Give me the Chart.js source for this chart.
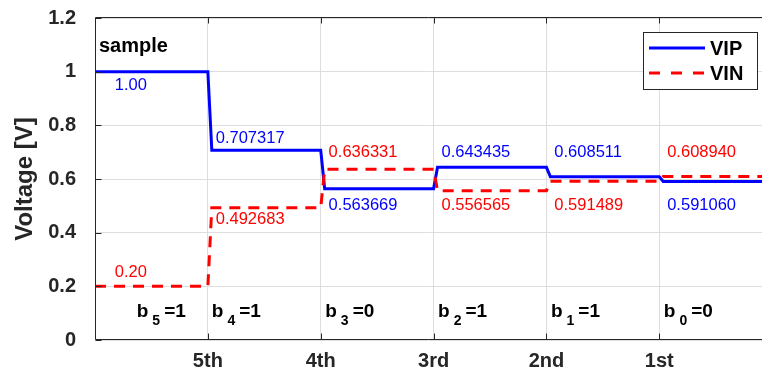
<!DOCTYPE html>
<html>
<head>
<meta charset="utf-8">
<script src="https://cdn.jsdelivr.net/npm/chart.js@4/dist/chart.umd.min.js"></script>
<style>
  html, body { margin: 0; padding: 0; background: #fff; overflow: hidden; }
  #wrap { position: relative; width: 762px; height: 375px; }
</style>
</head>
<body>
<div id="wrap"><canvas id="c"></canvas></div>
<script>
// Conversion stages shown on the x axis
const stageLabels = ['5th', '4th', '3rd', '2nd', '1st'];
// Held voltage of each input after every step
const vipLevels = [1.00, 0.707317, 0.563669, 0.643435, 0.608511, 0.591060];
const vinLevels = [0.20, 0.492683, 0.636331, 0.556565, 0.591489, 0.608940];
// Decided bits b5 ... b0
const bitValues = [1, 1, 0, 1, 1, 0];
const seriesNames = ['VIP', 'VIN'];

const FONT = '"Liberation Sans", Arial, Helvetica, sans-serif';
const AXIS_COLOR = '#262626';
const X_MAX = 5.91;
const RAMP = 0.035;

// Turn a list of step levels into a polyline with short switching ramps
function stepPoints(levels) {
  const pts = [];
  levels.forEach((v, i) => {
    pts.push({ x: i === 0 ? 0 : i + RAMP, y: v });
    pts.push({ x: i + 1, y: v });
  });
  return pts;
}

const decor = {
  id: 'decor',
  afterDatasetsDraw(chart, args, o) {
    const { ctx, chartArea: a, scales: { x, y } } = chart;
    ctx.save();

    // value labels beside each step
    ctx.textAlign = 'left';
    ctx.textBaseline = 'middle';
    ctx.font = '16.5px ' + FONT;
    const sets = [
      { levels: vipLevels, ys: o.vipLabelY, color: chart.data.datasets[0].borderColor },
      { levels: vinLevels, ys: o.vinLabelY, color: chart.data.datasets[1].borderColor }
    ];
    sets.forEach(s => {
      ctx.fillStyle = s.color;
      s.levels.forEach((v, i) => {
        ctx.fillText(v.toFixed(o.decimals[i]), x.getPixelForValue(o.labelX[i]), y.getPixelForValue(s.ys[i]));
      });
    });

    // bit decisions b5 ... b0
    ctx.fillStyle = '#000';
    ctx.textBaseline = 'alphabetic';
    bitValues.forEach((b, i) => {
      let px = x.getPixelForValue(o.bitX[i]);
      const py = y.getPixelForValue(o.bitY);
      ctx.font = 'bold 19px ' + FONT;
      ctx.fillText('b', px, py);
      px += ctx.measureText('b').width + 4;
      ctx.font = 'bold 14px ' + FONT;
      const sub = String(bitValues.length - 1 - i);
      ctx.fillText(sub, px, py + 8);
      px += ctx.measureText(sub).width + 4;
      ctx.font = 'bold 19px ' + FONT;
      ctx.fillText('=' + b, px, py);
    });

    // phase caption
    ctx.font = 'bold 20px ' + FONT;
    ctx.fillText('sample', x.getPixelForValue(0.035), y.getPixelForValue(1.074));

    // axes frame with inward ticks
    ctx.strokeStyle = AXIS_COLOR;
    ctx.lineWidth = 1;
    const L = Math.round(a.left) + 0.5, B = Math.round(a.bottom) - 0.5, T = Math.round(a.top) - 0.5;
    ctx.beginPath();
    ctx.moveTo(L, T); ctx.lineTo(L, B);
    ctx.moveTo(L, B); ctx.lineTo(a.right, B);
    ctx.moveTo(L, T); ctx.lineTo(a.right, T);
    x.ticks.forEach(t => {
      const px = Math.round(x.getPixelForValue(t.value)) + 0.5;
      ctx.moveTo(px, B); ctx.lineTo(px, B - 6);
      ctx.moveTo(px, T); ctx.lineTo(px, T + 6);
    });
    y.ticks.forEach(t => {
      const py = Math.round(y.getPixelForValue(t.value)) + 0.5;
      ctx.moveTo(L, py); ctx.lineTo(L + 6, py);
    });
    ctx.stroke();
    ctx.restore();
  },
  afterDraw(chart, args, o) {
    // boxed legend in the upper right corner
    const { ctx } = chart;
    const b = o.legendBox;
    ctx.save();
    ctx.fillStyle = '#fff';
    ctx.fillRect(b.x, b.y, b.w, b.h);
    ctx.strokeStyle = AXIS_COLOR;
    ctx.lineWidth = 1;
    ctx.strokeRect(b.x + 0.5, b.y + 0.5, b.w, b.h);
    chart.data.datasets.forEach((ds, i) => {
      const ry = b.y + 16 + i * 25;
      ctx.strokeStyle = ds.borderColor;
      ctx.lineWidth = ds.borderWidth;
      ctx.setLineDash(ds.borderDash ? [11, 11] : []);
      ctx.beginPath();
      ctx.moveTo(b.x + 6, ry);
      ctx.lineTo(b.x + 62, ry);
      ctx.stroke();
      ctx.setLineDash([]);
      ctx.fillStyle = '#000';
      ctx.font = 'bold 20px ' + FONT;
      ctx.textAlign = 'left';
      ctx.textBaseline = 'middle';
      ctx.fillText(ds.label, b.x + 67, ry + 1);
    });
    ctx.restore();
  }
};

new Chart(document.getElementById('c'), {
  type: 'line',
  data: {
    datasets: [
      {
        label: seriesNames[0],
        data: stepPoints(vipLevels),
        borderColor: '#0000ff',
        borderWidth: 3,
        pointRadius: 0,
        tension: 0,
        fill: false,
        borderJoinStyle: 'miter',
        order: 1
      },
      {
        label: seriesNames[1],
        data: stepPoints(vinLevels),
        borderColor: '#ff0000',
        borderWidth: 3,
        borderDash: [11, 8],
        pointRadius: 0,
        tension: 0,
        fill: false,
        borderJoinStyle: 'miter',
        order: 0
      }
    ]
  },
  options: {
    responsive: true,
    maintainAspectRatio: false,
    animation: false,
    events: [],
    layout: { padding: { top: 18, right: 0, bottom: 0, left: 0 } },
    plugins: {
      legend: { display: false },
      tooltip: { enabled: false },
      decor: {
        labelX: [0.175, 1.07, 2.07, 3.07, 4.07, 5.07],
        vipLabelY: [0.95, 0.75, 0.5, 0.7, 0.7, 0.5],
        vinLabelY: [0.25, 0.45, 0.7, 0.5, 0.5, 0.7],
        decimals: [2, 6, 6, 6, 6, 6],
        bitX: [0.37, 1.035, 2.04, 3.04, 4.04, 5.04],
        bitY: 0.085,
        legendBox: { x: 643, y: 32, w: 114, h: 57 }
      }
    },
    scales: {
      x: {
        type: 'linear',
        min: 0,
        max: X_MAX,
        afterBuildTicks: s => { s.ticks = stageLabels.map((_, i) => ({ value: i + 1 })); },
        afterFit: s => { s.height = 35; s.paddingLeft = 0; s.paddingRight = 0; },
        grid: { color: '#dedede', drawTicks: false },
        border: { display: false },
        ticks: {
          autoSkip: false,
          maxRotation: 0,
          padding: 9,
          color: AXIS_COLOR,
          font: { family: FONT, size: 20, weight: 'bold' },
          callback: v => stageLabels[v - 1] ?? ''
        }
      },
      y: {
        min: 0,
        max: 1.2,
        afterFit: s => { s.width = 95; s.paddingTop = 0; s.paddingBottom = 0; },
        grid: { color: '#dedede', drawTicks: false },
        border: { display: false },
        ticks: {
          stepSize: 0.2,
          padding: 19,
          color: AXIS_COLOR,
          font: { family: FONT, size: 20, weight: 'bold' },
          callback: v => String(+v.toFixed(1))
        },
        title: {
          display: true,
          text: 'Voltage [V]',
          color: AXIS_COLOR,
          font: { family: FONT, size: 24, weight: 'bold' },
          padding: { top: 11, bottom: 0 }
        }
      }
    }
  },
  plugins: [decor]
});
</script>
</body>
</html>
